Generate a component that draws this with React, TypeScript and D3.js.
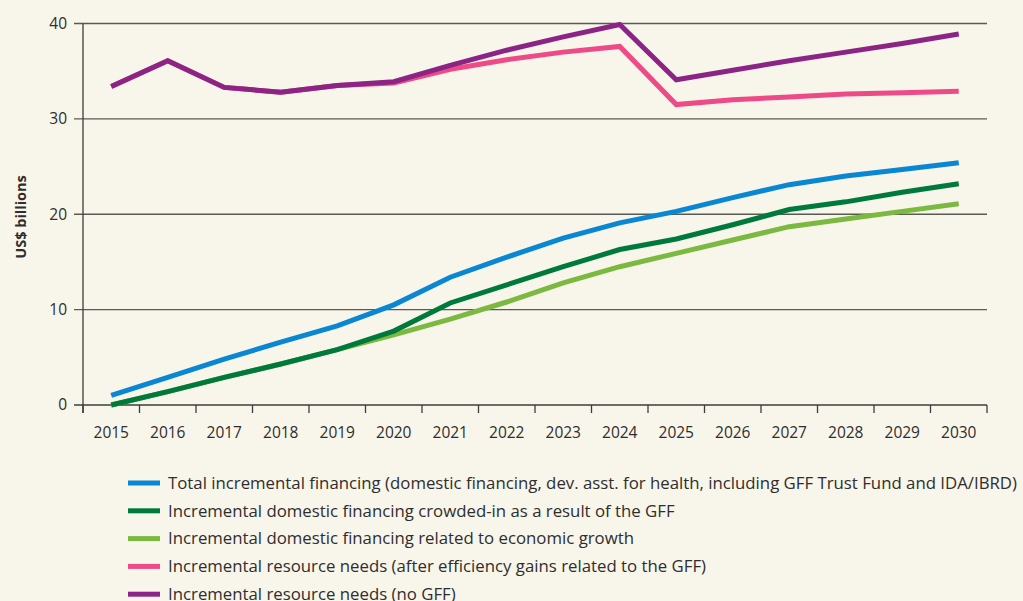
import React from "react";
import * as d3 from "d3";

const years = ["2015","2016","2017","2018","2019","2020","2021","2022","2023","2024","2025","2026","2027","2028","2029","2030"];
const totalFinancing = [1.0, 2.9, 4.8, 6.6, 8.3, 10.5, 13.4, 15.5, 17.5, 19.1, 20.3, 21.75, 23.1, 24.0, 24.7, 25.4];
const crowdedIn = [0, 1.4, 2.9, 4.3, 5.8, 7.75, 10.7, 12.6, 14.5, 16.3, 17.4, 18.9, 20.5, 21.3, 22.3, 23.2];
const econGrowth = [0, 1.4, 2.9, 4.3, 5.8, 7.35, 9.0, 10.8, 12.8, 14.5, 15.9, 17.3, 18.7, 19.5, 20.3, 21.1];
const needsEfficiency = [33.4, 36.1, 33.3, 32.8, 33.5, 33.75, 35.2, 36.2, 37.0, 37.6, 31.5, 32.0, 32.3, 32.6, 32.75, 32.9];
const needsNoGFF = [33.4, 36.1, 33.3, 32.8, 33.5, 33.9, 35.6, 37.2, 38.6, 39.9, 34.1, 35.1, 36.1, 37.0, 37.9, 38.9];
const yTicks = [0, 10, 20, 30, 40];

const seriesNames = [
  "Total incremental financing (domestic financing, dev. asst. for health, including GFF Trust Fund and IDA/IBRD)",
  "Incremental domestic financing crowded-in as a result of the GFF",
  "Incremental domestic financing related to economic growth",
  "Incremental resource needs (after efficiency gains related to the GFF)",
  "Incremental resource needs (no GFF)",
];
const seriesColors = ["#0a87d2", "#007a3c", "#7cb940", "#ef4a88", "#8c2486"];
const seriesValues = [totalFinancing, crowdedIn, econGrowth, needsEfficiency, needsNoGFF];
const drawOrder = [2, 1, 0, 3, 4];

export default function App() {
  const W = 1023, H = 601;
  const left = 83, right = 987, top = 23.5, bottom = 405;
  const x = d3.scaleBand<string>().domain(years).range([left, right]).padding(0);
  const y = d3.scaleLinear().domain([0, 40]).range([bottom, top]);
  const line = d3.line<number>()
    .x((_, i) => (x(years[i]) as number) + x.bandwidth() / 2)
    .y((d) => y(d));
  const font = "'Open Sans', sans-serif";
  const axisColor = "#3c3c3c";
  const textColor = "#2e2e2e";
  const boundaries = years.map((yr) => x(yr) as number).concat([right]);

  return (
    <div style={{ position: "fixed", left: 0, top: 0 }}>
      <svg width={W} height={H} style={{ display: "block", background: "#f8f5ea" }}>
        <rect x={0} y={0} width={W} height={H} fill="#f8f5ea" />
        {yTicks.map((t) => (
          <g key={t}>
            <line x1={74} x2={right} y1={y(t)} y2={y(t)} stroke={t === 0 ? axisColor : "#5a5a55"} strokeWidth={1.3} />
            <text x={67} y={y(t)} dy="0.35em" textAnchor="end" fontFamily={font} fontSize={15.5} fill={textColor}>{t}</text>
          </g>
        ))}
        <line x1={left} x2={left} y1={top} y2={bottom + 8} stroke={axisColor} strokeWidth={1.3} />
        {boundaries.map((bx, i) => (
          <line key={i} x1={bx} x2={bx} y1={bottom} y2={bottom + 8} stroke={axisColor} strokeWidth={1.3} />
        ))}
        {years.map((yr) => (
          <text key={yr} x={(x(yr) as number) + x.bandwidth() / 2} y={438} textAnchor="middle" fontFamily={font} fontSize={15.5} fill={textColor}>{yr}</text>
        ))}
        <text transform={`translate(26,217) rotate(-90)`} textAnchor="middle" fontFamily={font} fontWeight={700} fontSize={14.5} fill={textColor}>US$ billions</text>
        {drawOrder.map((si) => (
          <path key={si} d={line(seriesValues[si]) || ""} fill="none" stroke={seriesColors[si]} strokeWidth={5} strokeLinejoin="miter" />
        ))}
        {seriesNames.map((name, i) => {
          const ly = 483 + i * 27.8;
          return (
            <g key={name}>
              <rect x={128} y={ly - 2.5} width={32} height={5} fill={seriesColors[i]} />
              <text x={168} y={ly} dy="0.35em" fontFamily={font} fontSize={16.8} fill={textColor}>{name}</text>
            </g>
          );
        })}
      </svg>
    </div>
  );
}
